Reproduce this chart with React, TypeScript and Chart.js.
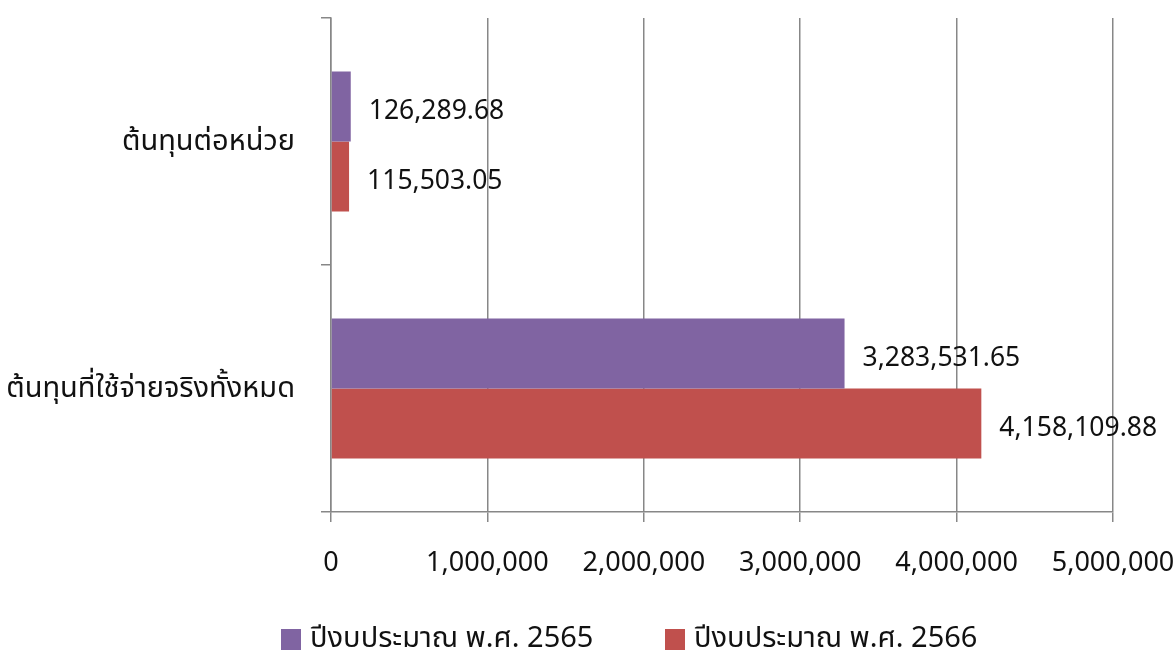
import React, { useEffect, useRef } from "react";
import { Chart, registerables } from "chart.js";

Chart.register(...registerables);

const categories = ["ต้นทุนต่อหน่วย", "ต้นทุนที่ใช้จ่ายจริงทั้งหมด"];
const series2565 = [126289.68, 3283531.65];
const series2566 = [115503.05, 4158109.88];
const seriesNames = ["ปีงบประมาณ พ.ศ. 2565", "ปีงบประมาณ พ.ศ. 2566"];
const seriesColors = ["#8064A2", "#C0504D"];
const xTicks = [0, 1000000, 2000000, 3000000, 4000000, 5000000];

const FONT_FAMILY = '"Noto Sans", "Noto Sans Thai", "Loma", "Garuda", "Tlwg Typo", sans-serif';
const TEXT_COLOR = "#111111";
const GRID_COLOR = "#878787";

const fmtInt = (v: number) => v.toLocaleString("en-US");
const fmtVal = (v: number) =>
  v.toLocaleString("en-US", { minimumFractionDigits: 2, maximumFractionDigits: 2 });

const valueLabels = {
  id: "valueLabels",
  afterDatasetsDraw(chart: any) {
    const ctx = chart.ctx;
    ctx.save();
    ctx.font = `26.5px ${FONT_FAMILY}`;
    ctx.fillStyle = TEXT_COLOR;
    ctx.textAlign = "left";
    ctx.textBaseline = "middle";
    chart.data.datasets.forEach((ds: any, di: number) => {
      const meta = chart.getDatasetMeta(di);
      meta.data.forEach((bar: any, i: number) => {
        ctx.fillText(fmtVal(ds.data[i]), bar.x + 18, bar.y + 5);
      });
    });
    ctx.restore();
  },
};

const bottomLegend = {
  id: "bottomLegend",
  afterDraw(chart: any) {
    const ctx = chart.ctx;
    ctx.save();
    ctx.font = `29px ${FONT_FAMILY}`;
    ctx.textBaseline = "middle";
    ctx.textAlign = "left";
    const cy = 639;
    const starts = [281, 665];
    chart.data.datasets.forEach((ds: any, i: number) => {
      const x = starts[i];
      ctx.fillStyle = ds.backgroundColor;
      ctx.fillRect(x, cy - 10, 20, 21);
      ctx.fillStyle = TEXT_COLOR;
      ctx.fillText(ds.label, x + 29, cy);
    });
    ctx.restore();
  },
};

export default function App() {
  const ref = useRef<HTMLCanvasElement | null>(null);
  useEffect(() => {
    if (!ref.current) return;
    const chart = new Chart(ref.current, {
      type: "bar",
      data: {
        labels: categories,
        datasets: [
          { label: seriesNames[0], data: series2565, backgroundColor: seriesColors[0] },
          { label: seriesNames[1], data: series2566, backgroundColor: seriesColors[1] },
        ],
      },
      options: {
        indexAxis: "y",
        animation: false,
        responsive: false,
        maintainAspectRatio: false,
        datasets: {
          bar: { categoryPercentage: 0.567, barPercentage: 1.0 },
        },
        layout: { padding: { top: 18, right: 63, left: 0, bottom: 76 } },
        plugins: {
          legend: { display: false },
          tooltip: { enabled: false },
        },
        scales: {
          x: {
            type: "linear",
            min: 0,
            max: 5000000,
            afterBuildTicks: (scale: any) => {
              scale.ticks = xTicks.map((v) => ({ value: v }));
            },
            afterFit: (scale: any) => {
              scale.height = 67;
              scale.paddingLeft = 0;
              scale.paddingRight = 0;
              scale.paddingTop = 0;
              scale.paddingBottom = 0;
            },
            ticks: {
              callback: (v: any) => fmtInt(Number(v)),
              color: TEXT_COLOR,
              font: { family: FONT_FAMILY, size: 27 },
              padding: 25,
              maxRotation: 0,
              autoSkip: false,
            },
            grid: {
              color: GRID_COLOR,
              lineWidth: 1.5,
              drawOnChartArea: true,
              drawTicks: true,
              tickLength: 10,
            },
            border: { display: true, color: GRID_COLOR, width: 1.5 },
          },
          y: {
            type: "category",
            afterFit: (scale: any) => {
              scale.width = 331;
              scale.paddingLeft = 0;
              scale.paddingRight = 0;
              scale.paddingTop = 0;
              scale.paddingBottom = 0;
            },
            ticks: {
              color: TEXT_COLOR,
              font: { family: FONT_FAMILY, size: 29 },
              padding: 26,
            },
            grid: {
              offset: true,
              color: GRID_COLOR,
              lineWidth: 1.5,
              drawOnChartArea: false,
              drawTicks: true,
              tickLength: 10,
            },
            border: { display: true, color: GRID_COLOR, width: 1.5 },
          },
        },
      },
      plugins: [valueLabels, bottomLegend],
    });
    return () => chart.destroy();
  }, []);
  return (
    <div style={{ position: "absolute", left: 0, top: 0, width: 1176, height: 655, background: "#fff" }}>
      <canvas ref={ref} width={1176} height={655} style={{ display: "block" }} />
    </div>
  );
}
